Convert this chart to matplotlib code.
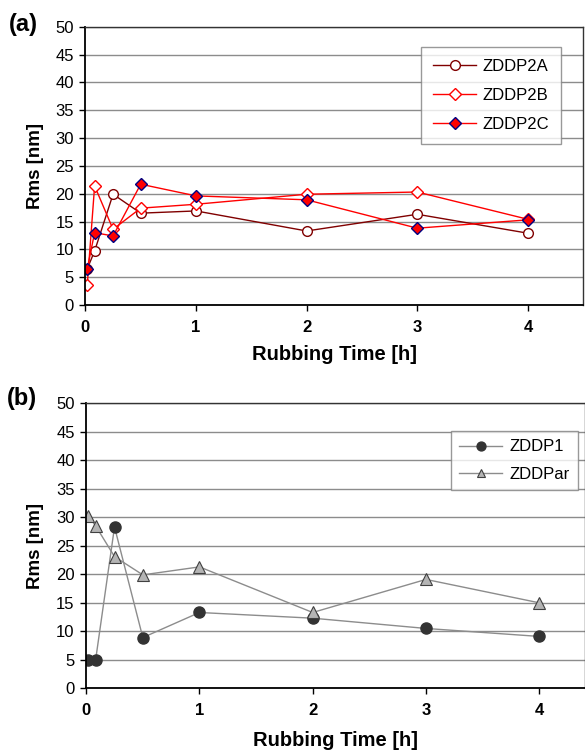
import matplotlib
matplotlib.use("Agg")
import matplotlib.pyplot as plt

plt.rcParams['font.family'] = ['Liberation Sans', 'DejaVu Sans']

# Data
time_h = [0.0167, 0.0833, 0.25, 0.5, 1, 2, 3, 4]
zddp2a = [6.5, 9.7, 19.9, 16.5, 16.9, 13.3, 16.3, 12.9]
zddp2b = [3.6, 21.4, 13.6, 17.4, 18.1, 19.9, 20.3, 15.4]
zddp2c = [6.5, 13.0, 12.4, 21.7, 19.6, 18.9, 13.8, 15.3]
zddp1 = [5.0, 5.0, 28.3, 8.9, 13.3, 12.3, 10.5, 9.1]
zddpar = [30.3, 28.5, 23.1, 19.9, 21.3, 13.3, 19.1, 15.0]

xticks = [0, 1, 2, 3, 4]
yticks = [0, 5, 10, 15, 20, 25, 30, 35, 40, 45, 50]

W, H = 585, 751
fig = plt.figure(figsize=(W / 100, H / 100), dpi=100)


def fx(px):
    return px / W


def fy(py):
    return 1 - py / H


def style_axes(ax, xmax, xlab_y, ylab_x):
    ax.set_xlim(0, xmax)
    ax.set_ylim(0, 50)
    ax.set_xticks(xticks)
    ax.set_yticks(yticks)
    ax.yaxis.grid(True, color='#8c8c8c', linewidth=1.0)
    ax.set_axisbelow(True)
    for s in ['left', 'bottom']:
        ax.spines[s].set_color('black')
        ax.spines[s].set_linewidth(1.3)
    for s in ['top', 'right']:
        ax.spines[s].set_color('#333333')
        ax.spines[s].set_linewidth(1.0)
    ax.tick_params(axis='both', direction='out', length=4.3, width=1, color='black')
    ax.tick_params(axis='y', labelsize=12, pad=4)
    ax.tick_params(axis='x', labelsize=12, pad=6.5)
    for lab in ax.get_xticklabels():
        lab.set_fontweight('bold')
    ax.set_xlabel('Rubbing Time [h]', fontsize=14.5, fontweight='bold')
    ax.set_ylabel('Rms [nm]', fontsize=13.5, fontweight='bold')
    ax.xaxis.label.set_va('center')
    ax.yaxis.label.set_va('center')
    ax.xaxis.set_label_coords(0.5, xlab_y)
    ax.yaxis.set_label_coords(ylab_x, 0.5)


# Panel (a)
ax1 = fig.add_axes([fx(85.4), fy(305), fx(583.2 - 85.4), (305 - 26.7) / H])
ax1.plot(time_h, zddp2a, color='#800000', lw=1.0, marker='o', ms=7,
         mfc='white', mec='#800000', mew=1.0, label='ZDDP2A')
ax1.plot(time_h, zddp2b, color='#ff0000', lw=1.0, marker='D', ms=6,
         mfc='white', mec='#ff0000', mew=1.0, label='ZDDP2B')
ax1.plot(time_h, zddp2c, color='#ff0000', lw=1.0, marker='D', ms=6.5,
         mfc='#ff0000', mec='#000080', mew=1.0, label='ZDDP2C')
style_axes(ax1, 4.5, (305 - 355) / (305 - 26.7), (36 - 85.4) / (583.2 - 85.4))
leg1 = ax1.legend(loc='upper left', bbox_to_anchor=(fx(421.3), fy(47.3)),
                  bbox_transform=fig.transFigure, borderaxespad=0,
                  fontsize=12, frameon=True, fancybox=False, shadow=False,
                  handlelength=2.6, handletextpad=0.4, labelspacing=0.85,
                  borderpad=0.7)
leg1.get_frame().set_edgecolor('#808080')
leg1.get_frame().set_linewidth(1.0)

# Panel (b)
ax2 = fig.add_axes([fx(86.2), fy(688.3), fx(584.5 - 86.2), (688.3 - 403.3) / H])
ax2.plot(time_h, zddp1, color='#8c8c8c', lw=1.0, marker='o', ms=8,
         mfc='#333333', mec='#333333', mew=1.0, label='ZDDP1')
ax2.plot(time_h, zddpar, color='#8c8c8c', lw=1.0, marker='^', ms=8,
         mfc='#b4b4b4', mec='#404040', mew=0.8, label='ZDDPar')
style_axes(ax2, 4.4, (688.3 - 740) / (688.3 - 403.3), (36 - 86.2) / (584.5 - 86.2))
leg2 = ax2.legend(loc='upper left', bbox_to_anchor=(fx(450.7), fy(431)),
                  bbox_transform=fig.transFigure, borderaxespad=0,
                  fontsize=12, frameon=True, fancybox=False, shadow=False,
                  handlelength=2.6, handletextpad=0.4, labelspacing=0.75,
                  borderpad=0.5, markerscale=0.8)
leg2.get_frame().set_edgecolor('#808080')
leg2.get_frame().set_linewidth(1.0)

fig.text(fx(23), fy(25), '(a)', fontsize=17, fontweight='bold', ha='center', va='center')
fig.text(fx(22), fy(398), '(b)', fontsize=17, fontweight='bold', ha='center', va='center')

fig.savefig('out.png', dpi=100)
